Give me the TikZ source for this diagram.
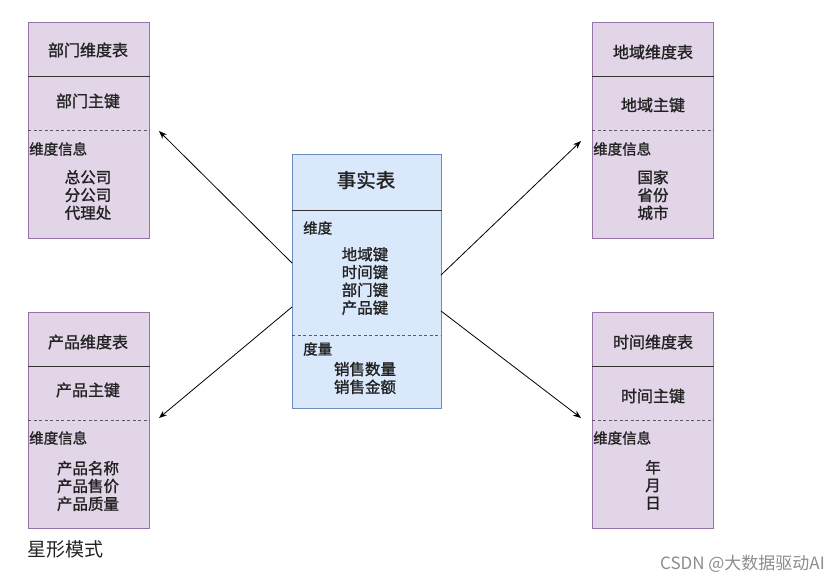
\documentclass[tikz,border=0pt]{standalone}
\usepackage{fontspec}
\setmainfont{Noto Sans CJK SC}
\newfontfamily\cjkbold{Noto Sans CJK SC}[FakeBold=1.3]
\usetikzlibrary{arrows.meta}
\definecolor{dimfill}{HTML}{E1D5E7}
\definecolor{dimdraw}{HTML}{9673A6}
\definecolor{factfill}{HTML}{DAE8FC}
\definecolor{factdraw}{HTML}{6C8EBF}
\definecolor{txt}{HTML}{222222}
\tikzset{
  dimbox/.style={draw=dimdraw, fill=dimfill, line width=1pt, minimum width=121pt, minimum height=216pt, inner sep=0pt, anchor=north west},
  factbox/.style={draw=factdraw, fill=factfill, line width=1pt, minimum width=149pt, minimum height=254pt, inner sep=0pt, anchor=north west},
  hline/.style={draw=black!80, line width=1pt},
  dline/.style={draw=black!65, line width=0.9pt, dash pattern=on 3pt off 2.5pt},
  ttl/.style={text=txt, font=\cjkbold\fontsize{16}{19}\selectfont, inner sep=0pt},
  bigttl/.style={text=txt, font=\cjkbold\fontsize{19.5}{22}\selectfont, inner sep=0pt},
  lbl/.style={text=txt, font=\cjkbold\fontsize{14.5}{17}\selectfont, inner sep=0pt, anchor=west},
  items/.style={text=txt, font=\cjkbold\fontsize{15.5}{17.8}\selectfont, inner sep=0pt, align=center},
  conn/.style={draw=black, line width=0.8pt, -{Stealth[length=8pt,width=6pt]}},
}
\begin{document}
\begin{tikzpicture}[x=1pt,y=-1pt]
\useasboundingbox (0,0) rectangle (837,582);

% ---------- 部门维度表 ----------
\node[dimbox] (bm) at (28,22) {};
\draw[hline] (bm.west |- 0,76) -- (bm.east |- 0,76);
\draw[dline] (bm.west |- 0,130) -- (bm.east |- 0,130);
\node[ttl] (bm-t) at (88,50) {部门维度表};
\node[ttl] (bm-k) at (88,101) {部门主键};
\node[lbl] (bm-l) at (29,149) {维度信息};
\node[items] (bm-i) at (88,195) {总公司\\分公司\\代理处};

% ---------- 地域维度表 ----------
\node[dimbox] (dy) at (592,22) {};
\draw[hline] (dy.west |- 0,76) -- (dy.east |- 0,76);
\draw[dline] (dy.west |- 0,130) -- (dy.east |- 0,130);
\node[ttl] (dy-t) at (653,52) {地域维度表};
\node[ttl] (dy-k) at (653,105) {地域主键};
\node[lbl] (dy-l) at (593,149) {维度信息};
\node[items] (dy-i) at (653,195) {国家\\省份\\城市};

% ---------- 产品维度表 ----------
\node[dimbox] (cp) at (28,312) {};
\draw[hline] (cp.west |- 0,366) -- (cp.east |- 0,366);
\draw[dline] (cp.west |- 0,420) -- (cp.east |- 0,420);
\node[ttl] (cp-t) at (88,342) {产品维度表};
\node[ttl] (cp-k) at (88,390) {产品主键};
\node[lbl] (cp-l) at (29,438) {维度信息};
\node[items] (cp-i) at (88,486) {产品名称\\产品售价\\产品质量};

% ---------- 时间维度表 ----------
\node[dimbox] (sj) at (592,312) {};
\draw[hline] (sj.west |- 0,366) -- (sj.east |- 0,366);
\draw[dline] (sj.west |- 0,420) -- (sj.east |- 0,420);
\node[ttl] (sj-t) at (653,342) {时间维度表};
\node[ttl] (sj-k) at (653,396) {时间主键};
\node[lbl] (sj-l) at (593,438) {维度信息};
\node[items] (sj-i) at (653,485) {年\\月\\日};

% ---------- 事实表 ----------
\node[factbox] (ss) at (292,154) {};
\draw[hline] (ss.west |- 0,210) -- (ss.east |- 0,210);
\draw[dline] (ss.west |- 0,335) -- (ss.east |- 0,335);
\node[bigttl] (ss-t) at (366,180) {事实表};
\node[lbl] (ss-wd) at (303,228) {维度};
\node[items] (ss-wi) at (365,281) {地域键\\时间键\\部门键\\产品键};
\node[lbl] (ss-dl) at (303,349) {度量};
\node[items] (ss-di) at (365,378) {销售数量\\销售金额};

% ---------- connectors ----------
\coordinate (a1s) at (292,263);
\coordinate (a1e) at (159,131);
\coordinate (a2s) at (292,307);
\coordinate (a2e) at (159,418);
\coordinate (a3s) at (441,275);
\coordinate (a3e) at (581,141);
\coordinate (a4s) at (441,311);
\coordinate (a4e) at (581,418);
\draw[conn] (a1s) -- (a1e);
\draw[conn] (a2s) -- (a2e);
\draw[conn] (a3s) -- (a3e);
\draw[conn] (a4s) -- (a4e);

% ---------- captions ----------
\node[text=txt, font=\fontsize{19}{22}\selectfont, inner sep=0pt, anchor=west] (cap) at (27,549) {星形模式};
\node[text=black!45, font=\fontsize{17}{20}\selectfont, inner sep=0pt, anchor=east] (wm) at (825,564) {CSDN @大数据驱动AI};
\end{tikzpicture}
\end{document}
